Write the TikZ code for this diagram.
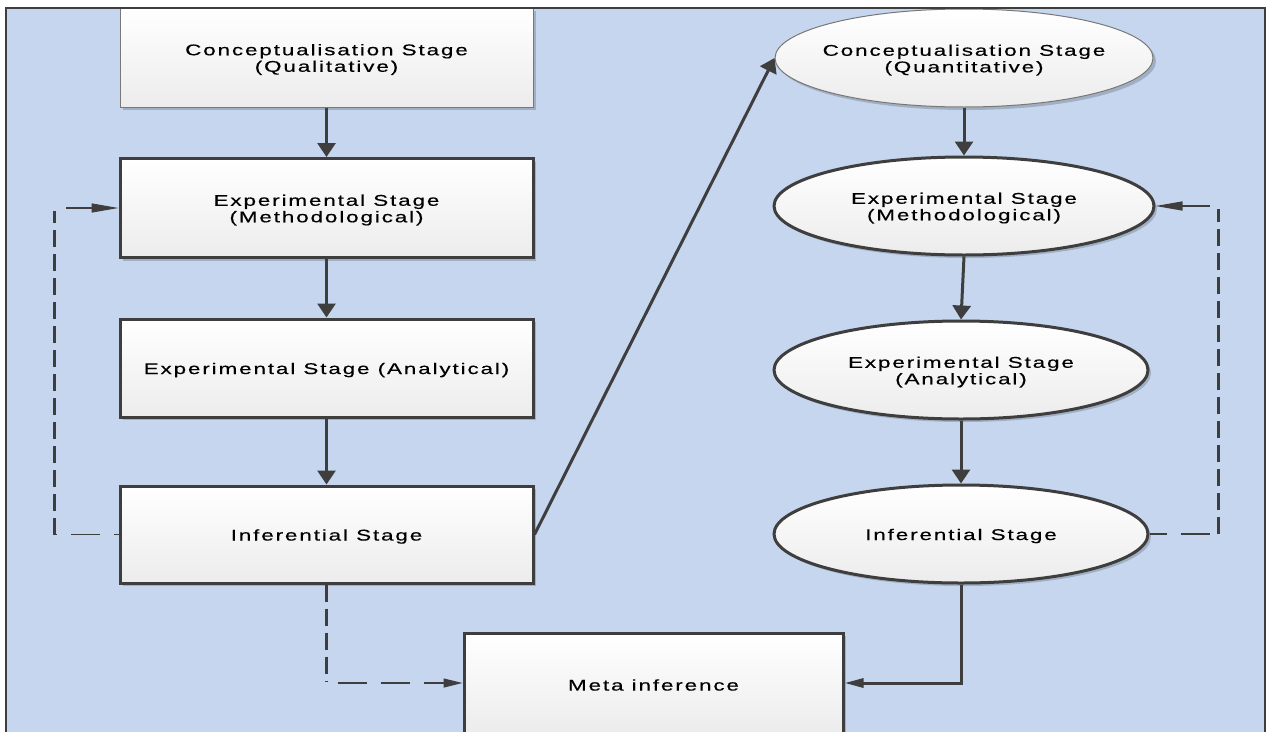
\documentclass[tikz,border=0pt]{standalone}
\usepackage{fontspec}
\usetikzlibrary{arrows.meta,shapes.geometric,shadows}
\newfontfamily\lblfont[FakeStretch=1.45,LetterSpace=12,FakeBold=0.4]{Liberation Sans}
\definecolor{panel}{RGB}{197,214,238}
\definecolor{ink}{RGB}{62,62,62}
\definecolor{thinink}{RGB}{120,120,120}
\definecolor{fillbot}{RGB}{236,236,236}

\begin{document}
\begin{tikzpicture}[x=1pt,y=-1pt,
  every node/.style={inner sep=0pt},
  txt/.style={font=\lblfont\fontsize{15.5}{16.5}\selectfont, align=center, text=black, yshift=-2pt},
  soft/.style={drop shadow={shadow xshift=3pt,shadow yshift=-3pt,opacity=0.18,fill=black}},
  card/.style={rectangle, draw=ink, line width=3pt, top color=white, bottom color=fillbot, soft},
  lightcard/.style={rectangle, draw=thinink, line width=1pt, top color=white, bottom color=fillbot, soft},
  oval/.style={ellipse, draw=ink, line width=3pt, top color=white, bottom color=fillbot, soft},
  lightoval/.style={ellipse, draw=thinink, line width=1pt, top color=white, bottom color=fillbot, soft},
  flow/.style={draw=ink, line width=3pt, -{Triangle[length=14pt,width=18pt]}},
  loopthick/.style={draw=ink, line width=3pt, dash pattern=on 17pt off 7pt},
  loopthin/.style={draw=ink, line width=1.3pt, dash pattern=on 29pt off 14pt},
  backarrow/.style={draw=ink, line width=1.3pt, -{Triangle[length=27pt,width=9pt]}},
  metaarrow/.style={-{Triangle[length=19pt,width=9pt]}}
]
\useasboundingbox (0,0) rectangle (1273,731);

% background panel
\fill[panel] (6,8) rectangle (1265,745);

% qualitative strand (rectangles)
\node[lightcard, minimum width=413pt, minimum height=99pt] (q1) at (326.5,57.5) {};
\node[card, minimum width=413pt, minimum height=99pt] (m1) at (326.5,208) {};
\node[card, minimum width=413pt, minimum height=98pt] (a1) at (326.5,368) {};
\node[card, minimum width=413pt, minimum height=97pt] (i1) at (326.5,534.5) {};

% quantitative strand (ellipses)
\node[lightoval, minimum width=378pt, minimum height=98pt] (q2) at (964,58) {};
\node[oval, minimum width=380pt, minimum height=98pt] (m2) at (964,206) {};
\node[oval, minimum width=374pt, minimum height=98pt] (a2) at (961,370) {};
\node[oval, minimum width=374pt, minimum height=98pt] (i2) at (961,534) {};

% meta inference
\node[card, minimum width=379pt, minimum height=100pt] (meta) at (653.5,683) {};

% labels
\node[txt] (q1t) at (q1) {Conceptualisation Stage\\(Qualitative)};
\node[txt] (m1t) at (m1) {Experimental Stage\\(Methodological)};
\node[txt] (a1t) at (a1) {Experimental Stage (Analytical)};
\node[txt] (i1t) at (i1) {Inferential Stage};
\node[txt] (q2t) at (q2) {Conceptualisation Stage\\(Quantitative)};
\node[txt] (m2t) at (m2) {Experimental Stage\\(Methodological)};
\node[txt] (a2t) at (a2) {Experimental Stage\\(Analytical)};
\node[txt] (i2t) at (i2) {Inferential Stage};
\node[txt] (metat) at (meta) {Meta inference};

% main flow
\draw[flow] (q1.south) -- (m1.north);
\draw[flow] (m1.south) -- (a1.north);
\draw[flow] (a1.south) -- (i1.north);
\draw[flow] (i1.east) -- (q2.west);
\draw[flow] (q2.south) -- (m2.north);
\draw[flow] (m2.south) -- (a2.north);
\draw[flow] (a2.south) -- (i2.north);
\draw[draw=ink, line width=3pt, metaarrow] (i2.south) |- (meta.east);

% dashed link into meta inference
\coordinate (mb) at (i1.south |- meta.west);
\draw[loopthick] (i1.south) -- ([yshift=2pt]mb);
\draw[loopthin, dash phase=32pt, metaarrow] (mb) -- (meta.west);

% left feedback loop
\coordinate (lb) at (54,534.5);
\coordinate (lt) at (54,211);
\coordinate (la) at (66,208);
\draw[loopthin, dash phase=24pt] (i1.west) -- (lb);
\draw[loopthick] (lb) -- (lt);
\draw[backarrow] (la) -- (m1.west);

% right feedback loop
\coordinate (rb) at (1218,534);
\coordinate (rt) at (1218,209);
\coordinate (ra) at (1210,206);
\draw[loopthin, dash phase=12pt] (i2.east) -- (rb);
\draw[loopthick] (rb) -- (rt);
\draw[backarrow] (ra) -- (m2.east);

% panel frame
\draw[ink, line width=1.2pt] (6,745) -- (6,8) -- (1265,8) -- (1265,745);
\end{tikzpicture}
\end{document}
